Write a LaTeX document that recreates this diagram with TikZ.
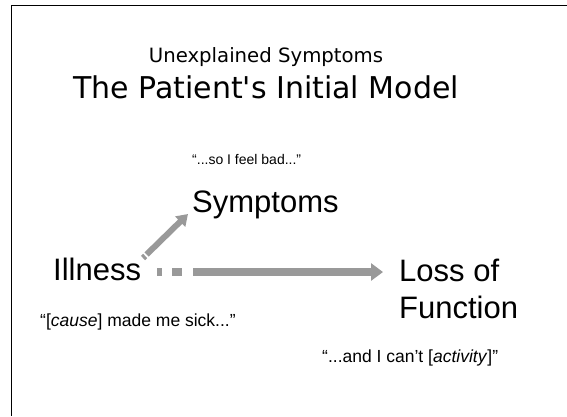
\documentclass[tikz,border=0pt]{standalone}
\usepackage{fontspec}
\setmainfont{Liberation Sans}
\newfontfamily\titlefont{DejaVu Sans}
\usetikzlibrary{arrows.meta}

\tikzset{
  frameline/.style={line width=1.6pt, black},
  heading/.style={inner sep=0pt, anchor=base, font=\titlefont\fontsize{19.7}{23}\selectfont},
  mainhead/.style={inner sep=0pt, anchor=base, font=\titlefont\fontsize{30}{36}\selectfont},
  concept/.style={inner sep=0pt, anchor=base west, font=\fontsize{31}{37}\selectfont},
  quote/.style={inner sep=0pt, anchor=base west, font=\fontsize{#1}{18}\selectfont},
  quote/.default=17.5,
  fatarrow/.style={draw=black!40, line width=#1, line cap=butt},
}

\begin{document}
\begin{tikzpicture}[x=1pt, y=-1pt]
  \useasboundingbox (0,0) rectangle (567,416);

  % slide frame (left and top edges)
  \draw[frameline] (567,5.5) -- (11.5,5.5) -- (11.5,416);

  % headings
  \node[heading]  (sub)   at (266,62) {Unexplained Symptoms};
  \node[mainhead] (title) at (266,98) {The Patient's Initial Model};

  % concepts
  \node[quote=14] (feel) at (192,164) {“...so I feel bad...”};
  \node[concept] (sym)  at (192,212) {Symptoms};
  \node[concept] (ill)  at (53,280)  {Illness};
  \node[concept, align=left] (loss) at (399,318) {Loss of\\Function};
  \node[quote]   (cause) at (40,326)  {“[\textit{cause}] made me sick...”};
  \node[quote]   (act)   at (322,362) {“...and I can't [\textit{activity}]”};

  % arrow ends
  \coordinate (d0) at (143,258);
  \coordinate (d1) at (188,214);
  \coordinate (h0) at (157,272);
  \coordinate (h1) at (383,272);

  % Illness -> Symptoms
  \draw[fatarrow=6pt, dash pattern=on 3pt off 2pt on 300pt off 0pt,
        -{Triangle[width=14pt,length=11pt,fill=black!40]}] (d0) -- (d1);
  % Illness -> Loss of Function
  \draw[fatarrow=8pt, dash pattern=on 5pt off 10pt on 10pt off 11pt on 400pt off 0pt,
        -{Triangle[width=17pt,length=12pt,fill=black!40]}] (h0) -- (h1);
\end{tikzpicture}
\end{document}
